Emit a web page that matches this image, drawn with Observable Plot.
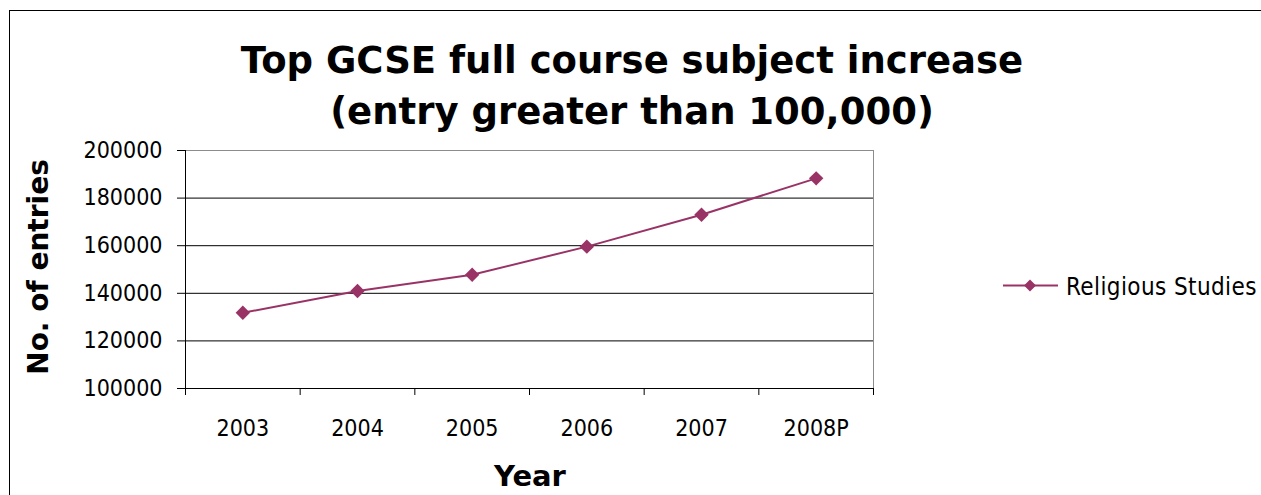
<!DOCTYPE html>
<html>
<head>
<meta charset="utf-8">
<script src="https://cdn.jsdelivr.net/npm/d3@7"></script>
<script src="https://cdn.jsdelivr.net/npm/@observablehq/plot@0.6"></script>
<style>
  html, body { margin: 0; padding: 0; background: #fff; overflow: hidden; }
  #wrap { position: relative; width: 1261px; height: 495px; overflow: hidden; background: #fff; }
  #frame { position: absolute; left: 9px; top: 10px; width: 1400px; height: 700px; border: 1.5px solid #000; box-sizing: border-box; }
  .bold { position: absolute; font-family: "DejaVu Sans", sans-serif; font-weight: bold; color: #000; white-space: nowrap; line-height: 1; }
  .title { left: 0; width: 1264px; text-align: center; font-size: 37px; }
  #ylabel { left: 39px; top: 267px; width: 300px; height: 28px; font-size: 28px; text-align: center; transform: translate(-50%, -50%) rotate(-90deg); }
  #xlabel { left: 380px; width: 300px; top: 461.5px; font-size: 29px; text-align: center; }
  #chart { position: absolute; left: 0; top: 0; }
  #legend-text { position: absolute; left: 1066px; top: 275px; font-family: "DejaVu Sans Condensed", "DejaVu Sans", sans-serif; font-stretch: condensed; font-size: 24px; letter-spacing: 0.4px; line-height: 1; white-space: nowrap; color: #000; }
  #legend-key { position: absolute; left: 0; top: 0; }
</style>
</head>
<body>
<div id="wrap">
  <div id="frame"></div>
  <div id="chart"></div>
  <div class="bold title" id="title1" style="top:42px">Top GCSE full course subject increase</div>
  <div class="bold title" id="title2" style="top:92.7px">(entry greater than 100,000)</div>
  <div class="bold" id="ylabel">No. of entries</div>
  <div class="bold" id="xlabel">Year</div>
  <svg id="legend-key" width="1261" height="495" style="pointer-events:none">
    <line x1="1003" x2="1058" y1="285.5" y2="285.5" stroke="#993366" stroke-width="2"></line>
    <path d="M1030,279.5 L1036,285.5 L1030,291.5 L1024,285.5 Z" fill="#993366"></path>
  </svg>
  <div id="legend-text">Religious Studies</div>
</div>
<script>
const years = ["2003", "2004", "2005", "2006", "2007", "2008P"];
const entries = [131800, 141000, 147800, 159600, 173000, 188300];
const yTicks = [100000, 120000, 140000, 160000, 180000, 200000];
const seriesName = "Religious Studies";

const data = years.map((year, i) => ({year, pos: i + 0.5, entries: entries[i], series: seriesName}));
const bounds = d3.range(years.length + 1);
const centers = years.map((_, i) => i + 0.5);

const chart = Plot.plot({
  width: 1261,
  height: 495,
  marginTop: 150,
  marginBottom: 107,
  marginLeft: 185,
  marginRight: 388,
  style: {
    fontFamily: '"DejaVu Sans Condensed", "DejaVu Sans", sans-serif',
    fontStretch: "condensed",
    fontSize: "23px",
    color: "#000",
    background: "transparent",
    overflow: "visible"
  },
  x: {domain: [0, years.length]},
  y: {domain: [100000, 200000]},
  marks: [
    Plot.gridY(yTicks, {stroke: "#000", strokeOpacity: 1}),
    Plot.ruleY([200000], {stroke: "#8c8c8c"}),
    Plot.ruleX([years.length], {stroke: "#8c8c8c"}),
    Plot.ruleX([0], {stroke: "#000"}),
    Plot.ruleY([100000], {stroke: "#000"}),
    Plot.axisY(yTicks, {tickSize: 8, tickPadding: 15, tickFormat: d => String(d), label: null, stroke: "#000", fill: "#000"}),
    Plot.axisX(bounds, {tickSize: 7, tickFormat: () => "", label: null, stroke: "#000"}),
    Plot.axisX(centers, {tickSize: 0, tickPadding: 31, tickFormat: d => years[Math.floor(d)], label: null, fill: "#000"}),
    Plot.line(data, {x: "pos", y: "entries", stroke: "#993366", strokeWidth: 2}),
    Plot.dot(data, {x: "pos", y: "entries", symbol: "diamond2", r: 6.5, fill: "#993366", stroke: "none"})
  ]
});
document.getElementById("chart").appendChild(chart);
</script>
</body>
</html>
